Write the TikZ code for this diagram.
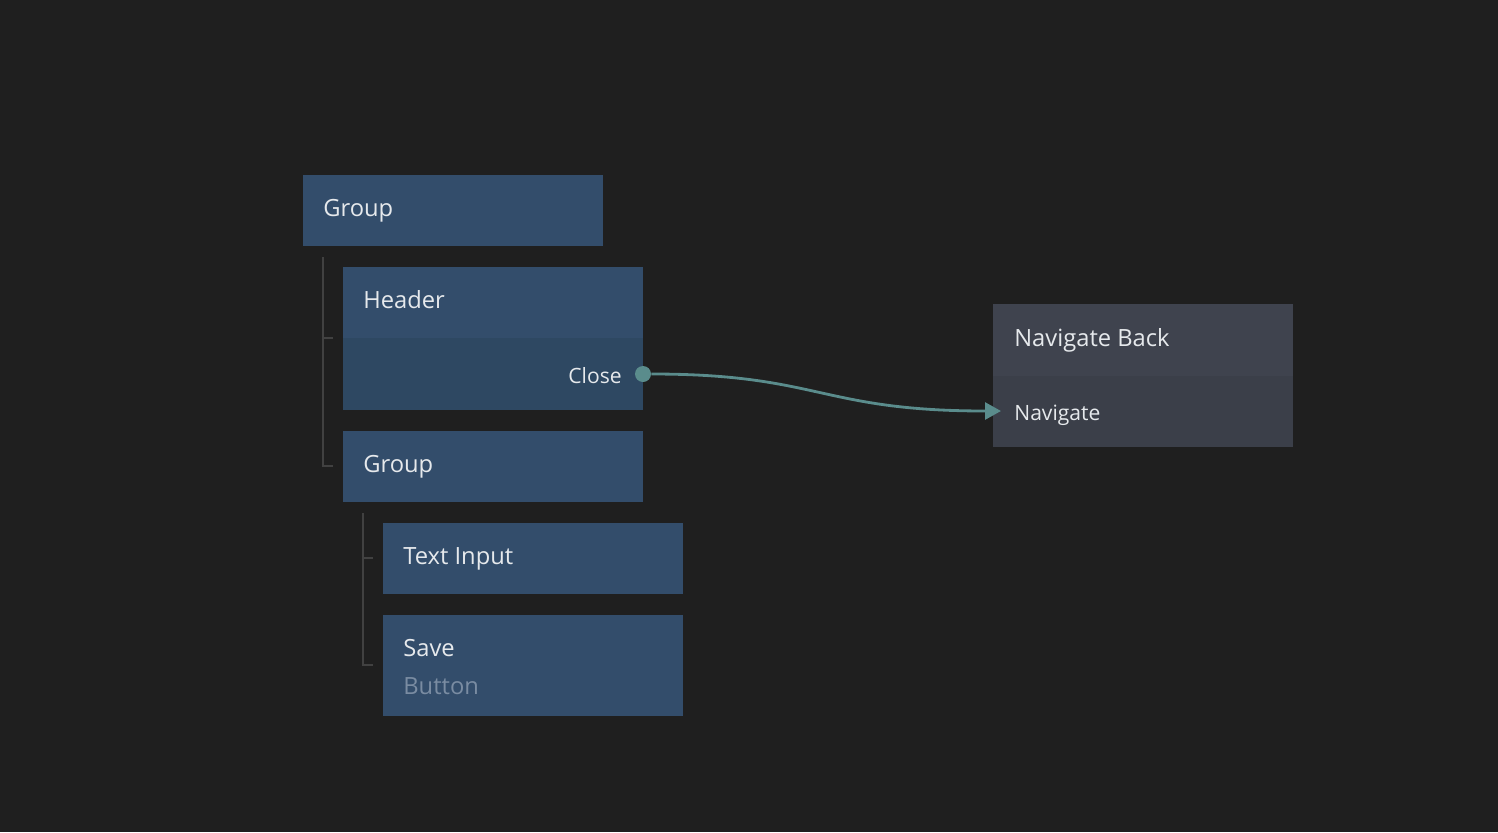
\documentclass[tikz,border=0pt]{standalone}
\usepackage{fontspec}
\setmainfont{Open Sans}
\usetikzlibrary{arrows.meta}

\definecolor{bgcol}{HTML}{1F1F1F}
\definecolor{nodeblue}{HTML}{334D6B}
\definecolor{portblue}{HTML}{2E4862}
\definecolor{nodegray}{HTML}{3F434E}
\definecolor{portgray}{HTML}{3B3F49}
\definecolor{treecol}{HTML}{414141}
\definecolor{wirecol}{HTML}{5A8C8C}
\definecolor{labelcol}{HTML}{E6E9EC}
\definecolor{subcol}{HTML}{7A8CA2}

\tikzset{
  box/.style={rectangle, inner sep=0pt, minimum width=6cm, minimum height=1.42cm, anchor=north west, fill=nodeblue},
  title/.style={anchor=base west, inner sep=0pt, text=labelcol, font=\fontsize{13.5}{16}\selectfont},
  portlabel/.style={inner sep=0pt, text=labelcol, font=\fontsize{12}{14}\selectfont},
  tree/.style={draw=treecol, line width=1.1pt},
  wire/.style={draw=wirecol, line width=1.6pt},
}

\begin{document}
\begin{tikzpicture}[x=0.02cm, y=-0.02cm]
  % background
  \fill[bgcol] (0,0) rectangle (1498,832);
  \useasboundingbox (0,0) rectangle (1498,832);
  % tree lines
  \draw[tree] (323,257) -- (323,466) -- (333,466);
  \draw[tree] (323,338) -- (333,338);
  \draw[tree] (363,513) -- (363,665) -- (373,665);
  \draw[tree] (363,558) -- (373,558);
  % Create boxes
  \node[box] (group) at (303,175) {};
  \node[box, minimum height=2.86cm] (header) at (343,267) {};
  \fill[portblue] (343,338) rectangle (643,410);
  \node[box] (subgroup) at (343,431) {};
  \node[box] (textinput) at (383,523) {};
  \node[box, minimum height=2.02cm] (save) at (383,615) {};
  \node[box, minimum height=2.86cm, fill=nodegray] (navback) at (993,304) {};
  \fill[portgray] (993,376) rectangle (1293,447);
  % titles
  \node[title] (grouptxt) at (323,216) {Group};
  \node[title] (headertxt) at (363,308) {Header};
  \node[title] (subgrouptxt) at (363,472) {Group};
  \node[title] (textinputtxt) at (403,564) {Text Input};
  \node[title] (savetxt) at (403,656) {Save};
  \node[title, text=subcol] (savetype) at (403,694) {Button};
  \node[title] (navbacktxt) at (1014,346) {Navigate Back};
  % ports
  \node[portlabel, anchor=base east] (closetxt) at (622,383) {Close};
  \node[portlabel, anchor=base west] (navtxt) at (1014,420) {Navigate};
  \node[circle, fill=wirecol, inner sep=0pt, minimum size=0.32cm] (closedot) at (643,374) {};
  \coordinate (navin) at (1001,411);
  \draw[wire, -{Triangle[length=0.32cm, width=0.34cm]}] (closedot) .. controls (820,374) and (820,411) .. (navin);
\end{tikzpicture}
\end{document}
